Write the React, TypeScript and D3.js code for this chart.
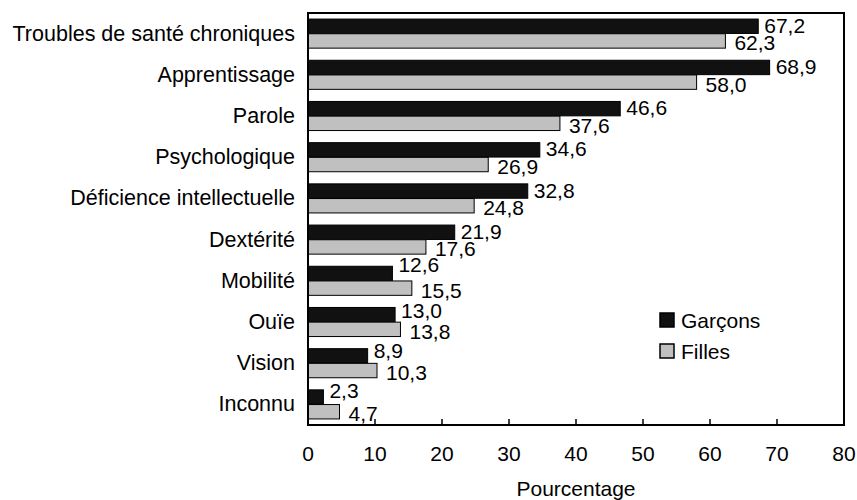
import React from "react";
import * as d3 from "d3";

const categories = [
  "Troubles de santé chroniques",
  "Apprentissage",
  "Parole",
  "Psychologique",
  "Déficience intellectuelle",
  "Dextérité",
  "Mobilité",
  "Ouïe",
  "Vision",
  "Inconnu",
];
const garcons = [67.2, 68.9, 46.6, 34.6, 32.8, 21.9, 12.6, 13.0, 8.9, 2.3];
const filles = [62.3, 58.0, 37.6, 26.9, 24.8, 17.6, 15.5, 13.8, 10.3, 4.7];
const seriesNames = ["Garçons", "Filles"];
const xTicks = [0, 10, 20, 30, 40, 50, 60, 70, 80];
const xTitle = "Pourcentage";

// vertical nudges for a few boys' labels (layout only)
const boyLabelNudge: Record<string, number> = {
  "Mobilité": -9,
  "Ouïe": -4.5,
  "Vision": -5,
  "Inconnu": -7,
};

const W = 857;
const H = 500;
const M = { left: 308, right: 844, top: 13, bottom: 425 };
const FONT = "'Liberation Sans', Arial, sans-serif";
const FS = 21;
const FS_CAT = 21.5;
const colors = ["#111111", "#c0c0c0"];

const fmt = (v: number) => d3.format(".1f")(v).replace(".", ",");

export default function App() {
  const x = d3.scaleLinear().domain([0, 80]).range([M.left, M.right]);
  const y = d3.scaleBand<string>().domain(categories).range([M.top, M.bottom]).padding(0);
  const bw = y.bandwidth();
  const sub = d3
    .scaleBand<string>()
    .domain(seriesNames)
    .range([bw * 0.14, bw * 0.86])
    .padding(0.02);
  const bh = sub.bandwidth();
  const series = [garcons, filles];

  return (
    <svg
      width={W}
      height={H}
      style={{ position: "absolute", left: 0, top: 0, background: "#fff" }}
      fontFamily={FONT}
      fontSize={FS}
    >
      <rect x={0} y={0} width={W} height={H} fill="#fff" />
      {/* bars */}
      {categories.map((c, i) =>
        series.map((vals, s) => {
          const yy = (y(c) as number) + (sub(seriesNames[s]) as number);
          return (
            <rect
              key={c + s}
              x={x(0)}
              y={yy}
              width={x(vals[i]) - x(0)}
              height={bh}
              fill={colors[s]}
              stroke="#000"
              strokeWidth={1}
            />
          );
        })
      )}
      {/* value labels */}
      {categories.map((c, i) =>
        series.map((vals, s) => {
          const yy = (y(c) as number) + (sub(seriesNames[s]) as number) + bh / 2;
          const nudge = s === 0 ? (boyLabelNudge[c] ?? -1) : 2;
          return (
            <text
              key={"l" + c + s}
              x={x(vals[i]) + (s === 0 ? 6 : 9)}
              y={yy + nudge}
              dominantBaseline="central"
              fill="#000"
            >
              {fmt(vals[i])}
            </text>
          );
        })
      )}
      {/* category labels */}
      {categories.map((c) => (
        <text
          key={"c" + c}
          x={M.left - 13}
          y={(y(c) as number) + bw / 2}
          textAnchor="end"
          dominantBaseline="central"
          fontSize={FS_CAT}
          fill="#000"
        >
          {c}
        </text>
      ))}
      {/* frame */}
      <rect
        x={M.left}
        y={M.top}
        width={M.right - M.left}
        height={M.bottom - M.top}
        fill="none"
        stroke="#000"
        strokeWidth={2}
      />
      {/* ticks */}
      {xTicks.map((t) => (
        <g key={"t" + t}>
          <line x1={x(t)} x2={x(t)} y1={M.bottom} y2={M.bottom - 6} stroke="#000" strokeWidth={1.5} />
          <text x={x(t)} y={453} textAnchor="middle" dominantBaseline="central" fill="#000">
            {t}
          </text>
        </g>
      ))}
      <text x={(M.left + M.right) / 2} y={488} textAnchor="middle" dominantBaseline="central" fill="#000">
        {xTitle}
      </text>
      {/* legend */}
      {seriesNames.map((n, i) => (
        <g key={"lg" + n} transform={`translate(660, ${313 + i * 31})`}>
          <rect x={0} y={0} width={14} height={14} fill={colors[i]} stroke="#000" strokeWidth={1.5} />
          <text x={21} y={7} dominantBaseline="central" fill="#000">
            {n}
          </text>
        </g>
      ))}
    </svg>
  );
}
